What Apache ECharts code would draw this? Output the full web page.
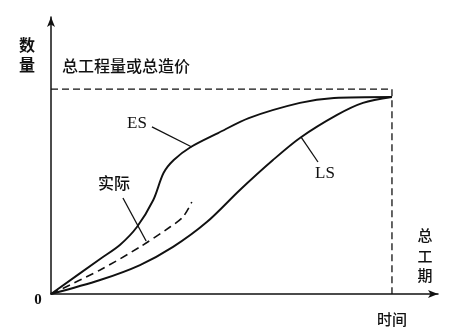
<!DOCTYPE html>
<html>
<head>
<meta charset="utf-8">
<script src="https://cdn.jsdelivr.net/npm/echarts@6/dist/echarts.min.js"></script>
<style>
html,body{margin:0;padding:0;background:#fff;}
#c{width:467px;height:332px;}
</style>
</head>
<body>
<div id="c"></div>
<script>
// Time (percent of total duration) and cumulative quantity (percent of total)
const esX = [0, 14.4, 20.2, 25.2, 30, 33, 36, 41, 49, 58, 73, 83, 100];
const esY = [0, 17.8, 24.9, 34, 47.7, 61.4, 68, 74.6, 81.7, 89.3, 97, 99.5, 100];
const lsX = [0, 14.4, 26.1, 35.8, 45.7, 55.4, 65.1, 73, 83.9, 91.5, 100];
const lsY = [0, 7.1, 14.7, 23.9, 36.5, 52.8, 68.0, 79.2, 90.9, 97, 100];
const actX = [0, 14.4, 26.1, 34.9, 38.7, 41.3];
const actY = [0, 12.2, 23.9, 34.0, 39.1, 46.7];
// total duration / total quantity reference level
const totalDuration = 100;
const totalLevel = 104;
// leader lines for labels [x0,y0,x1,y1]
const esLeader = [29.6, 84.8, 41.3, 74.6];
const lsLeader = [73.3, 79.7, 78.3, 67.0];
const actLeader = [21.1, 48.7, 27.9, 26.9];

const zip = (a, b) => a.map((v, i) => [v, b[i]]);
const seg = s => [[s[0], s[1]], [s[2], s[3]]];

const chart = echarts.init(document.getElementById('c'), null, {renderer: 'canvas'});
const cjk = '"Noto Sans CJK SC", sans-serif';
const serif = '"Liberation Serif", "DejaVu Serif", serif';
const blk = '#111';

const lineBase = {type: 'line', symbol: 'none', silent: true, animation: false};

chart.setOption({
  backgroundColor: '#fff',
  animation: false,
  grid: {left: 51, top: 17, right: 29, bottom: 38},
  xAxis: {
    type: 'value', min: 0, max: 113.5,
    axisLine: {show: true, onZero: false, symbol: ['none', 'arrow'], symbolSize: [6, 10],
      lineStyle: {color: blk, width: 1.5}},
    axisTick: {show: false}, axisLabel: {show: false}, splitLine: {show: false}
  },
  yAxis: {
    type: 'value', min: 0, max: 140.6,
    axisLine: {show: true, onZero: false, symbol: ['none', 'arrow'], symbolSize: [6, 10],
      lineStyle: {color: blk, width: 1.5}},
    axisTick: {show: false}, axisLabel: {show: false}, splitLine: {show: false}
  },
  series: [
    Object.assign({}, lineBase, {
      data: [[0, totalLevel], [totalDuration, totalLevel], [totalDuration, 0]],
      lineStyle: {color: blk, width: 1.3, type: [7, 4]}
    }),
    Object.assign({}, lineBase, {
      data: zip(esX, esY), smooth: 0.3,
      lineStyle: {color: blk, width: 1.9}
    }),
    Object.assign({}, lineBase, {
      data: zip(lsX, lsY), smooth: 0.3,
      lineStyle: {color: blk, width: 1.9}
    }),
    Object.assign({}, lineBase, {
      data: zip(actX, actY), smooth: 0.3,
      lineStyle: {color: blk, width: 1.6, type: [8, 5]}
    }),
    Object.assign({}, lineBase, {data: seg(esLeader), lineStyle: {color: blk, width: 1.3}}),
    Object.assign({}, lineBase, {data: seg(lsLeader), lineStyle: {color: blk, width: 1.3}}),
    Object.assign({}, lineBase, {data: seg(actLeader), lineStyle: {color: blk, width: 1.3}})
  ],
  graphic: [
    {type: 'text', x: 27, y: 45, style: {text: '数', font: 'bold 16px ' + cjk, fill: blk, align: 'center', verticalAlign: 'middle'}},
    {type: 'text', x: 27, y: 65, style: {text: '量', font: 'bold 16px ' + cjk, fill: blk, align: 'center', verticalAlign: 'middle'}},
    {type: 'text', x: 62, y: 66, style: {text: '总工程量或总造价', font: '500 16px ' + cjk, fill: blk, align: 'left', verticalAlign: 'middle'}},
    {type: 'text', x: 137, y: 124, style: {text: 'ES', font: '17px ' + serif, fill: blk, align: 'center', verticalAlign: 'middle'}},
    {type: 'text', x: 325, y: 174, style: {text: 'LS', font: '17px ' + serif, fill: blk, align: 'center', verticalAlign: 'middle'}},
    {type: 'text', x: 114, y: 183, style: {text: '实际', font: '500 16px ' + cjk, fill: blk, align: 'center', verticalAlign: 'middle'}},
    {type: 'text', x: 425, y: 235, style: {text: '总', font: '500 15px ' + cjk, fill: blk, align: 'center', verticalAlign: 'middle'}},
    {type: 'text', x: 425, y: 256, style: {text: '工', font: '500 15px ' + cjk, fill: blk, align: 'center', verticalAlign: 'middle'}},
    {type: 'text', x: 425, y: 275, style: {text: '期', font: '500 15px ' + cjk, fill: blk, align: 'center', verticalAlign: 'middle'}},
    {type: 'text', x: 392, y: 319, style: {text: '时间', font: '500 15px ' + cjk, fill: blk, align: 'center', verticalAlign: 'middle'}},
    {type: 'text', x: 38, y: 300, style: {text: '0', font: 'bold 15px ' + serif, fill: blk, align: 'center', verticalAlign: 'middle'}}
  ]
});
</script>
</body>
</html>
